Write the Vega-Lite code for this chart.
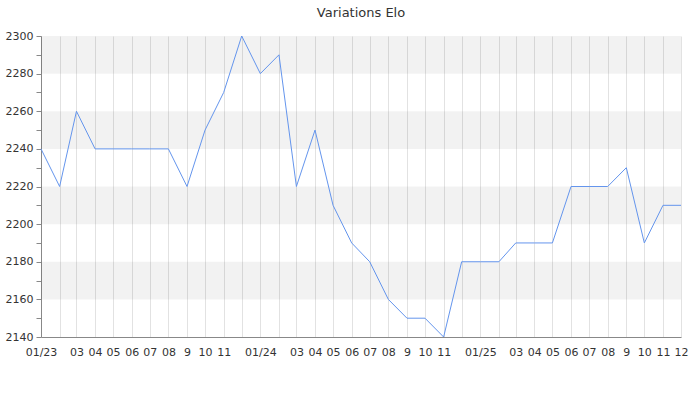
{
  "$schema": "https://vega.github.io/schema/vega-lite/v6.json",
  "width": 640,
  "height": 301,
  "autosize": "none",
  "padding": {"left": 41, "top": 36, "right": 19, "bottom": 63},
  "title": {"text": "Variations Elo", "fontSize": 13, "fontWeight": "normal", "font": "DejaVu Sans", "color": "#333333", "offset": 10, "anchor": "middle"},
  "config": {"view": {"stroke": null}, "axis": {"labelFont": "DejaVu Sans", "labelFontSize": 11, "labelColor": "#333333"}},
  "datasets": {
    "elo": [
      {"date": "2023-01-01", "elo": 2240}, {"date": "2023-02-01", "elo": 2220}, {"date": "2023-03-01", "elo": 2260},
      {"date": "2023-04-01", "elo": 2240}, {"date": "2023-05-01", "elo": 2240}, {"date": "2023-06-01", "elo": 2240},
      {"date": "2023-07-01", "elo": 2240}, {"date": "2023-08-01", "elo": 2240}, {"date": "2023-09-01", "elo": 2220},
      {"date": "2023-10-01", "elo": 2250}, {"date": "2023-11-01", "elo": 2270}, {"date": "2023-12-01", "elo": 2300},
      {"date": "2024-01-01", "elo": 2280}, {"date": "2024-02-01", "elo": 2290}, {"date": "2024-03-01", "elo": 2220},
      {"date": "2024-04-01", "elo": 2250}, {"date": "2024-05-01", "elo": 2210}, {"date": "2024-06-01", "elo": 2190},
      {"date": "2024-07-01", "elo": 2180}, {"date": "2024-08-01", "elo": 2160}, {"date": "2024-09-01", "elo": 2150},
      {"date": "2024-10-01", "elo": 2150}, {"date": "2024-11-01", "elo": 2140}, {"date": "2024-12-01", "elo": 2180},
      {"date": "2025-01-01", "elo": 2180}, {"date": "2025-02-01", "elo": 2180}, {"date": "2025-03-01", "elo": 2190},
      {"date": "2025-04-01", "elo": 2190}, {"date": "2025-05-01", "elo": 2190}, {"date": "2025-06-01", "elo": 2220},
      {"date": "2025-07-01", "elo": 2220}, {"date": "2025-08-01", "elo": 2220}, {"date": "2025-09-01", "elo": 2230},
      {"date": "2025-10-01", "elo": 2190}, {"date": "2025-11-01", "elo": 2210}, {"date": "2025-12-01", "elo": 2210}
    ],
    "bands": [
      {"lo": 2160, "hi": 2180}, {"lo": 2200, "hi": 2220}, {"lo": 2240, "hi": 2260}, {"lo": 2280, "hi": 2300}
    ]
  },
  "resolve": {"axis": {"y": "independent"}},
  "layer": [
    {
      "data": {"name": "bands"},
      "mark": {"type": "rect", "color": "#000000", "opacity": 0.05},
      "encoding": {
        "y": {"field": "lo", "type": "quantitative", "scale": {"domain": [2140, 2300], "nice": false, "zero": false}, "axis": null},
        "y2": {"field": "hi"}
      }
    },
    {
      "data": {"name": "elo"},
      "mark": {"type": "line", "color": "#6495ED", "strokeWidth": 1},
      "encoding": {
        "x": {
          "field": "date", "type": "temporal",
          "scale": {"type": "utc", "domain": ["2023-01-01", "2025-12-01"], "nice": false, "padding": 0},
          "axis": {
            "title": null,
            "tickCount": {"interval": "month", "step": 1},
            "ticks": false,
            "labelPadding": 9,
            "labelOverlap": false,
            "labelFlush": false,
            "gridColor": "#e2e2e2",
            "domainColor": "#888888",
            "labelExpr": "utcmonth(datum.value) == 0 ? utcFormat(datum.value, '%m/%y') : (utcmonth(datum.value) == 1 || (utcmonth(datum.value) == 11 && utcyear(datum.value) < 2025)) ? '' : utcmonth(datum.value) == 8 ? '9' : utcFormat(datum.value, '%m')"
          }
        },
        "y": {
          "field": "elo", "type": "quantitative",
          "scale": {"domain": [2140, 2300], "nice": false, "zero": false},
          "axis": {
            "title": null,
            "values": [2140, 2150, 2160, 2170, 2180, 2190, 2200, 2210, 2220, 2230, 2240, 2250, 2260, 2270, 2280, 2290, 2300],
            "format": "d",
            "labelOverlap": false,
            "labelBound": false,
            "labelExpr": "datum.value % 20 == 0 ? format(datum.value, 'd') : ''",
            "gridColor": "#e2e2e2",
            "gridOpacity": {"condition": {"test": "datum.value % 20 == 0", "value": 1}, "value": 0},
            "tickColor": "#888888",
            "tickSize": 5,
            "domainColor": "#888888",
            "labelPadding": 3
          }
        }
      }
    }
  ]
}
